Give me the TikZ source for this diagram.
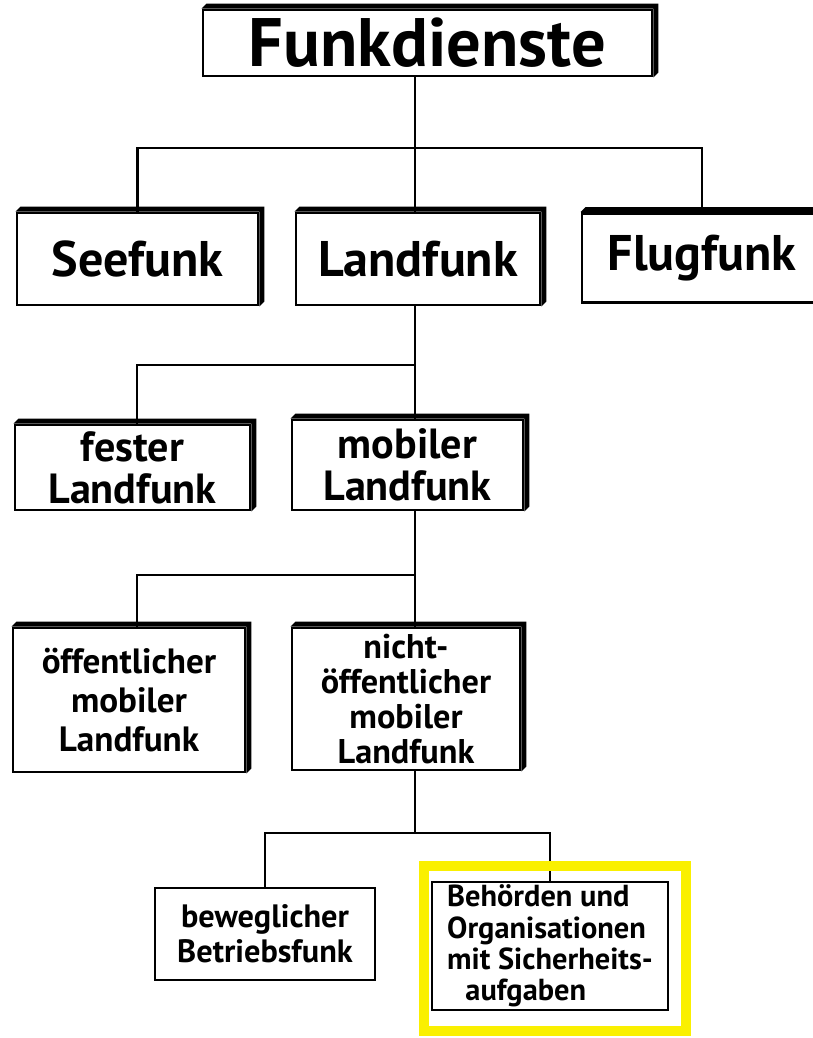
\documentclass[tikz,border=0pt]{standalone}
\usepackage{fontspec}
\setsansfont{PT Sans}
\usepackage{tikz}
\usetikzlibrary{calc}

\begin{document}
\begin{tikzpicture}[
  x=0.02cm, y=-0.02cm,
  kasten/.style={
    draw, line width=1.6pt, fill=white, align=center, inner sep=0pt
  },
  gross/.style={font=\sffamily\bfseries\fontsize{39}{39}\selectfont},
  ebene1/.style={font=\sffamily\bfseries\fontsize{28.5}{28.5}\selectfont},
  ebene2/.style={font=\sffamily\bfseries\fontsize{24}{24}\selectfont},
  ebene3/.style={font=\sffamily\bfseries\fontsize{20}{22}\selectfont},
  ebene4/.style={font=\sffamily\bfseries\fontsize{18.4}{20}\selectfont},
  linie/.style={line width=1.4pt},
  markiert/.style={draw={rgb,255:red,250;green,240;blue,0}, line width=5.6pt}
]
\useasboundingbox (0,0) rectangle (812,1038);

% ----- Wurzel -----
\node[kasten, gross, minimum width=8.98cm, minimum height=1.32cm] (funk) at (427.5,43) {Funkdienste};

% ----- 1. Ebene -----
\node[kasten, ebene1, minimum width=4.82cm, minimum height=1.84cm] (seefunk)  at (137.5,259) {Seefunk};
\node[kasten, ebene1, minimum width=4.88cm, minimum height=1.84cm] (landfunk) at (418,259)   {Landfunk};
\node[kasten, ebene1, minimum width=4.80cm, minimum height=1.78cm] (flugfunk) at (702,258)   {Flugfunk};

% ----- 2. Ebene -----
\node[kasten, ebene2, minimum width=4.70cm, minimum height=1.70cm] (fester)  at (132.5,467.5) {fester\\Landfunk};
\node[kasten, ebene2, minimum width=4.62cm, minimum height=1.80cm] (mobiler) at (407.5,465)   {mobiler\\Landfunk};

% ----- 3. Ebene -----
\node[kasten, ebene3, minimum width=4.64cm, minimum height=2.88cm] (oeff)  at (129,700) {öffentlicher\\mobiler\\Landfunk};
\node[kasten, ebene3, font=\sffamily\bfseries\fontsize{19.5}{20}\selectfont,
      minimum width=4.56cm, minimum height=2.84cm] (nicht) at (406,699) {nicht-\\öffentlicher\\mobiler\\Landfunk};

% ----- 4. Ebene -----
\node[kasten, ebene4, minimum width=4.40cm, minimum height=1.84cm] (beweglich) at (265,934) {beweglicher\\Betriebsfunk};
\node[kasten, ebene4, font=\sffamily\bfseries\fontsize{17.3}{17.8}\selectfont, align=left,
      minimum width=4.72cm, minimum height=2.56cm] (behoerden) at (550,946)
  {Behörden und\\Organisationen\\mit Sicherheits-\\\hspace*{0.6em}aufgaben};

% 3D-Kanten oben und rechts
\foreach \n in {funk,seefunk,landfunk,flugfunk,fester,mobiler,oeff,nicht}
  \fill (\n.north west) -- ++(5,-5) -- ([shift={(5,-5)}]\n.north east)
    -- ([shift={(5,-5)}]\n.south east) -- (\n.south east) -- (\n.north east) -- cycle;

% ----- Verbindungen -----
\coordinate (k1) at (415,148);
\coordinate (k2) at (415,365);  \coordinate (k2l) at (137,365);
\coordinate (k3) at (415,575);  \coordinate (k3l) at (137,575);
\coordinate (k4) at (415,833);

\draw[linie] (funk.south -| k1) -- (k1);
\draw[linie] (seefunk.north) |- (k1) -| (flugfunk.north);
\draw[linie] (landfunk.north -| k1) -- (k1);

\draw[linie] (landfunk.south -| k2) -- (k2);
\draw[linie] (fester.north -| k2l) |- (k2) -- (mobiler.north -| k2);

\draw[linie] (mobiler.south -| k3) -- (k3);
\draw[linie] (oeff.north -| k3l) |- (k3) -- (nicht.north -| k3);

\draw[linie] (nicht.south -| k4) -- (k4);
\draw[linie] (beweglich.north) |- (k4) -| (behoerden.north);

% Markierung
\draw[markiert] ([shift={(-7,-15)}]behoerden.north west) rectangle ([shift={(17,20)}]behoerden.south east);

\end{tikzpicture}
\end{document}
